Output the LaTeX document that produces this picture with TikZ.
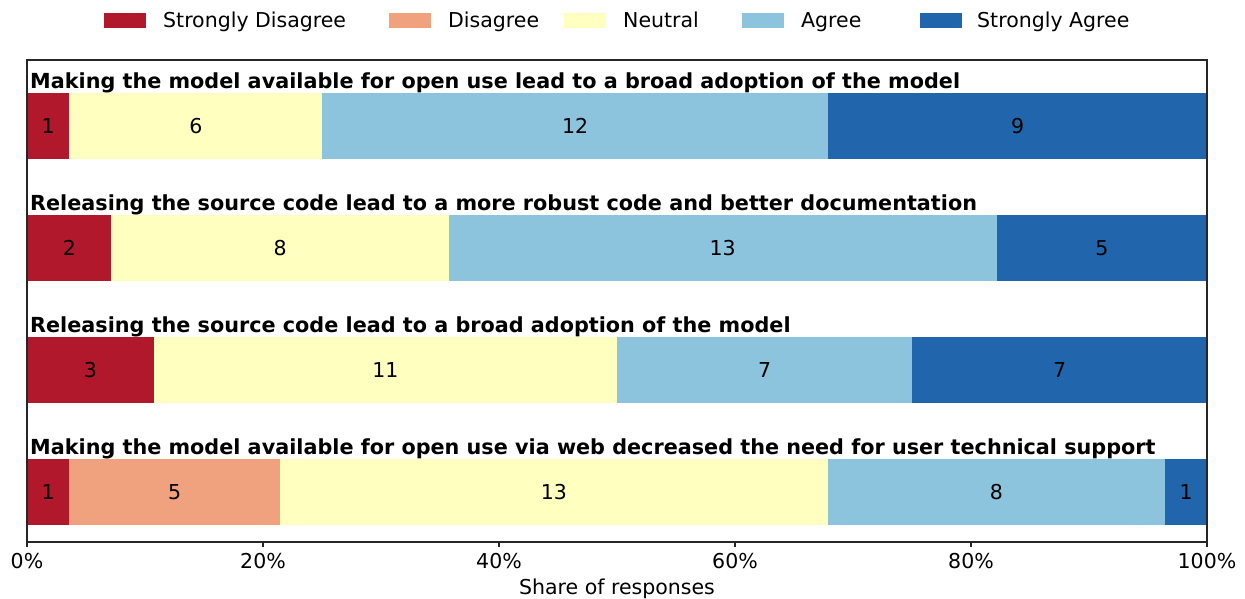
\documentclass[tikz,border=0pt]{standalone}
\usepackage{fontspec}
\setmainfont{DejaVu Sans}
\definecolor{cSD}{HTML}{B2182B}
\definecolor{cD}{HTML}{F0A27E}
\definecolor{cN}{HTML}{FFFFC0}
\definecolor{cA}{HTML}{8CC3DD}
\definecolor{cSA}{HTML}{2166AC}
\definecolor{axc}{HTML}{262626}
\tikzset{
  seg/.style={anchor=west, inner sep=0pt, minimum height=66pt, draw=none, font=\fontsize{20.5}{24}\selectfont},
  patch/.style={anchor=west, inner sep=0pt, minimum width=42pt, minimum height=15pt},
  legtext/.style={anchor=base west, inner sep=0pt, font=\fontsize{20.5}{24}\selectfont},
  qtitle/.style={anchor=south west, inner sep=0pt, font=\fontsize{20.75}{24}\selectfont\bfseries},
  ticklab/.style={anchor=base, inner sep=0pt, font=\fontsize{20.5}{24}\selectfont},
  frame/.style={draw=axc, line width=1.1pt},
  tick/.style={draw=axc, line width=1.1pt}
}
\begin{document}
\begin{tikzpicture}[x=1pt,y=-1pt]
\useasboundingbox (0,0) rectangle (1245,599);
% legend
\node[patch, fill=cSD] (lp1) at (104,20.5) {};
\node[legtext] (lt1) at (163,28) {Strongly Disagree};
\node[patch, fill=cD] (lp2) at (389,20.5) {};
\node[legtext] (lt2) at (448,28) {Disagree};
\node[patch, fill=cN] (lp3) at (564,20.5) {};
\node[legtext] (lt3) at (623,28) {Neutral};
\node[patch, fill=cA] (lp4) at (742,20.5) {};
\node[legtext] (lt4) at (801,28) {Agree};
\node[patch, fill=cSA] (lp5) at (920,20.5) {};
\node[legtext] (lt5) at (977,28) {Strongly Agree};
% bar 1
\node[seg, fill=cSD, minimum width=42.14pt] (b1sd) at (27,126) {1};
\node[seg, fill=cN, minimum width=252.86pt] (b1n) at (69.14,126) {6};
\node[seg, fill=cA, minimum width=505.71pt] (b1a) at (322,126) {12};
\node[seg, fill=cSA, minimum width=379.29pt] (b1sa) at (827.71,126) {9};
% bar 2
\node[seg, fill=cSD, minimum width=84.29pt] (b2sd) at (27,248) {2};
\node[seg, fill=cN, minimum width=337.14pt] (b2n) at (111.29,248) {8};
\node[seg, fill=cA, minimum width=547.86pt] (b2a) at (448.43,248) {13};
\node[seg, fill=cSA, minimum width=210.71pt] (b2sa) at (996.29,248) {5};
% bar 3
\node[seg, fill=cSD, minimum width=126.43pt] (b3sd) at (27,370) {3};
\node[seg, fill=cN, minimum width=463.57pt] (b3n) at (153.43,370) {11};
\node[seg, fill=cA, minimum width=295pt] (b3a) at (617,370) {7};
\node[seg, fill=cSA, minimum width=295pt] (b3sa) at (912,370) {7};
% bar 4
\node[seg, fill=cSD, minimum width=42.14pt] (b4sd) at (27,492) {1};
\node[seg, fill=cD, minimum width=210.71pt] (b4d) at (69.14,492) {5};
\node[seg, fill=cN, minimum width=547.86pt] (b4n) at (279.86,492) {13};
\node[seg, fill=cA, minimum width=337.14pt] (b4a) at (827.71,492) {8};
\node[seg, fill=cSA, minimum width=42.14pt] (b4sa) at (1164.86,492) {1};
% titles
\node[qtitle] (t1) at (30,93) {Making the model available for open use lead to a broad adoption of the model};
\node[qtitle] (t2) at (30,215) {Releasing the source code lead to a more robust code and better documentation};
\node[qtitle] (t3) at (30,337) {Releasing the source code lead to a broad adoption of the model};
\node[qtitle] (t4) at (30,459) {Making the model available for open use via web decreased the need for user technical support};
% frame
\draw[frame] (27,60) rectangle (1207,542);
% ticks
\foreach \i/\v in {0/0,1/20,2/40,3/60,4/80,5/100}{
  \coordinate (tk\i) at ({27+236*\i},542);
  \draw[tick] (tk\i) -- ++(0,5);
  \node[ticklab] (tl\i) at ({27+236*\i},568.5) {\v\%};
}
\node[ticklab] (xlab) at (617,594.5) {Share of responses};
\end{tikzpicture}
\end{document}
